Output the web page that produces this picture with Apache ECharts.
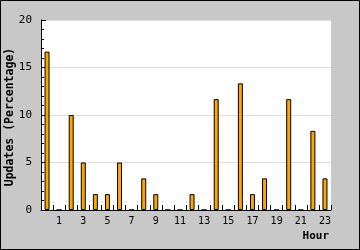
<!DOCTYPE html>
<html><head><meta charset="utf-8">
<script src="https://cdn.jsdelivr.net/npm/echarts@6/dist/echarts.min.js"></script>
<style>html,body{margin:0;padding:0;background:#c8c8c8}#c{width:360px;height:250px}</style>
</head><body><div id="c"></div>
<script>
const hours = ['0','1','2','3','4','5','6','7','8','9','10','11','12','13','14','15','16','17','18','19','20','21','22','23'];
const updates = [16.67,0,10,5,1.67,1.67,5,0,3.33,1.67,0,0,1.67,0,11.67,0,13.33,1.67,3.33,0,11.67,0,8.33,3.33];
const yTicks = {min:0, max:20, interval:5};
const xTitle = 'Hour';
const yTitle = 'Updates (Percentage)';
const mono = 'DejaVu Sans Mono';
const chart = echarts.init(document.getElementById('c'), null, {renderer:'canvas'});
chart.setOption({
  animation:false,
  backgroundColor:'#c8c8c8',
  grid:{left:41, top:20, right:29, bottom:40, containLabel:false, outerBoundsMode:'none', show:true, backgroundColor:'#fff', borderWidth:0},
  xAxis:{
    type:'category', data:hours, boundaryGap:true,
    axisLine:{lineStyle:{color:'#000', width:1}},
    axisTick:{show:true, inside:true, length:5, interval:0, lineStyle:{color:'#000'}},
    axisLabel:{interval:function(i){return i%2===1;}, fontFamily:mono, fontSize:10, color:'#000', margin:6},
    splitLine:{show:false}
  },
  yAxis:{
    type:'value', min:yTicks.min, max:yTicks.max, interval:yTicks.interval,
    axisLine:{show:true, lineStyle:{color:'#000', width:1}},
    axisTick:{show:true, inside:true, length:5, lineStyle:{color:'#000'}},
    minorTick:{show:true, splitNumber:5, length:3, lineStyle:{color:'#000'}},
    axisLabel:{fontFamily:mono, fontSize:11, color:'#000', margin:9},
    splitLine:{show:true, lineStyle:{color:'#dcdcdc', width:1}}
  },
  series:[{
    type:'bar', data:updates, barWidth:5,
    itemStyle:{color:'#ffa500', borderColor:'#000', borderWidth:1}
  }],
  graphic:[
    {type:'text', x:10, y:117, rotation:Math.PI/2, style:{text:yTitle, font:'bold 11.5px "DejaVu Sans Mono"', fill:'#000', textAlign:'center', textVerticalAlign:'middle'}},
    {type:'text', x:329, y:236, style:{text:xTitle, font:'bold 11px "DejaVu Sans Mono"', fill:'#000', textAlign:'right', textVerticalAlign:'middle'}},
    {type:'rect', shape:{x:0.5,y:0.5,width:359,height:249}, style:{fill:'none', stroke:'#000', lineWidth:1}, z:100}
  ]
});
</script></body></html>
